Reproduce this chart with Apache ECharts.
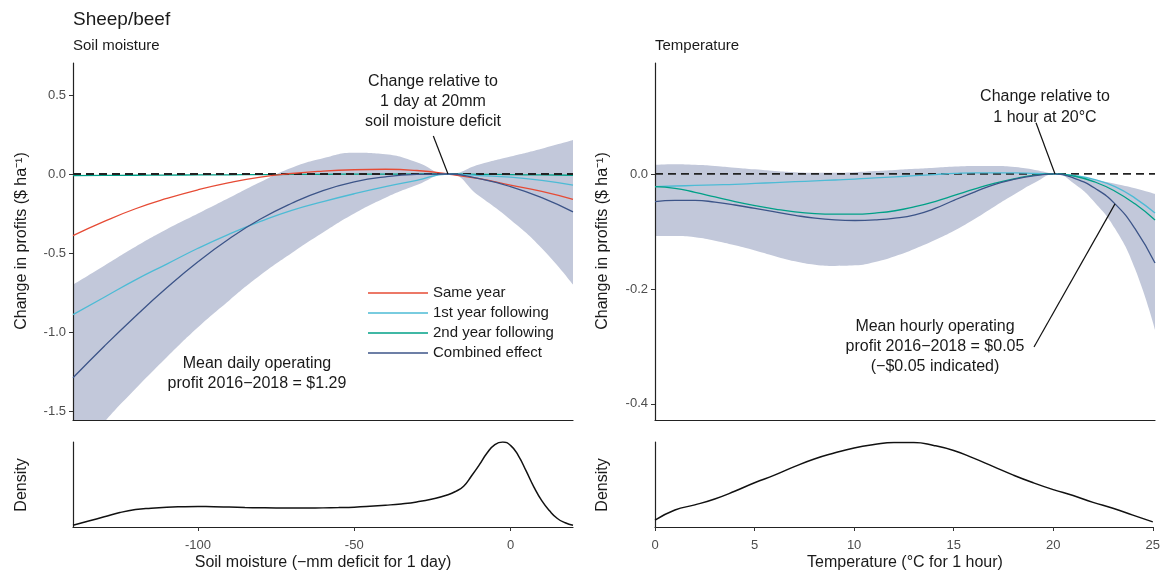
<!DOCTYPE html>
<html><head><meta charset="utf-8">
<script src="https://cdn.jsdelivr.net/npm/echarts@6/dist/echarts.min.js"></script>
<style>html,body{margin:0;padding:0;background:#fff}#c{width:1163px;height:572px}</style>
</head><body><div id="c"></div>
<script>
// ---------- DATA ----------
const soilX = [-140,-130,-120,-110,-100,-90,-80,-70,-60,-50,-40,-30,-20,-10,0,10,20];
const soilSameYear   = [-0.39,-0.30,-0.22,-0.155,-0.10,-0.055,-0.02,0.003,0.018,0.027,0.03,0.022,0,-0.03,-0.07,-0.11,-0.16];
const soilFirstYear  = [-0.89,-0.78,-0.67,-0.57,-0.47,-0.38,-0.30,-0.23,-0.175,-0.125,-0.08,-0.04,0,-0.01,-0.02,-0.04,-0.07];
const soilSecondYear = [-0.01,-0.009,-0.008,-0.007,-0.006,-0.005,-0.004,-0.003,-0.002,-0.001,-0.001,0,0,-0.002,-0.004,-0.006,-0.008];
const soilCombined   = [-1.29,-1.09,-0.90,-0.72,-0.555,-0.41,-0.285,-0.185,-0.105,-0.05,-0.018,-0.003,0,-0.03,-0.08,-0.15,-0.24];
const soilUpper      = [-0.70,-0.58,-0.46,-0.35,-0.25,-0.15,-0.05,0.04,0.10,0.135,0.125,0.075,0,0.06,0.11,0.16,0.215];
const soilLower      = [-1.80,-1.57,-1.36,-1.16,-0.97,-0.80,-0.64,-0.50,-0.37,-0.25,-0.15,-0.07,0,-0.14,-0.29,-0.47,-0.70];

const tempX = [0,1,2,3,4,5,6,7,8,9,10,11,12,13,14,15,16,17,18,19,20,21,22,23,24,25];
const tempFirstYear  = [-0.022,-0.021,-0.02,-0.019,-0.018,-0.0165,-0.015,-0.0135,-0.012,-0.0105,-0.009,-0.007,-0.005,-0.003,-0.001,0.001,0.002,0.002,0.002,0.001,0,-0.003,-0.01,-0.022,-0.042,-0.068];
const tempSecondYear = [-0.022,-0.025,-0.032,-0.040,-0.048,-0.055,-0.061,-0.066,-0.069,-0.070,-0.070,-0.068,-0.064,-0.057,-0.048,-0.037,-0.026,-0.016,-0.008,-0.002,0,-0.004,-0.014,-0.03,-0.052,-0.08];
const tempCombined   = [-0.048,-0.046,-0.046,-0.049,-0.054,-0.060,-0.066,-0.072,-0.077,-0.080,-0.081,-0.080,-0.077,-0.071,-0.060,-0.045,-0.031,-0.018,-0.009,-0.003,0,-0.008,-0.025,-0.052,-0.095,-0.155];
const tempUpper      = [0.016,0.017,0.016,0.014,0.011,0.008,0.005,0.003,0.002,0.002,0.003,0.005,0.007,0.009,0.011,0.013,0.014,0.014,0.012,0.007,0,-0.004,-0.01,-0.017,-0.025,-0.035];
const tempLower      = [-0.108,-0.108,-0.110,-0.116,-0.124,-0.133,-0.143,-0.152,-0.158,-0.160,-0.159,-0.153,-0.143,-0.130,-0.115,-0.098,-0.078,-0.056,-0.035,-0.015,0,-0.018,-0.05,-0.095,-0.165,-0.271];

const soilDensityX = [-140,-135,-130,-125,-120,-115,-110,-105,-100,-95,-90,-85,-80,-75,-70,-65,-60,-55,-50,-45,-40,-35,-30,-25,-20,-17.5,-15,-12.5,-10,-7.5,-5,-2.5,0,2.5,5,7.5,10,12.5,15,17.5,20];
const soilDensity  = [0.02,0.07,0.12,0.17,0.205,0.222,0.233,0.238,0.24,0.239,0.235,0.23,0.226,0.224,0.224,0.224,0.225,0.228,0.233,0.243,0.256,0.272,0.295,0.33,0.38,0.42,0.48,0.6,0.73,0.87,0.97,1.0,0.96,0.84,0.66,0.47,0.31,0.19,0.1,0.05,0.02];
const tempDensity  = [0.08,0.2,0.26,0.33,0.42,0.52,0.61,0.71,0.80,0.87,0.93,0.97,0.995,0.995,0.96,0.90,0.81,0.71,0.61,0.52,0.44,0.37,0.29,0.22,0.14,0.06];

const seriesNames = ['Same year','1st year following','2nd year following','Combined effect'];
const soilTicksY = [-1.5,-1,-0.5,0,0.5];
const tempTicksY = [-0.4,-0.2,0];
const soilTicksX = [-100,-50,0];

// ---------- STYLE ----------
const FONT = 'Liberation Sans, Arial, Helvetica, sans-serif';
const COLORS = {'Same year':'#E64B35','1st year following':'#4DBBD5','2nd year following':'#00A087','Combined effect':'#3C5488'};
const BAND = '#C2C8DA';
const AXIS = '#222';
const pairs = (xs, ys) => xs.map((x,i)=>[x, ys[i]]);

function curve(name, xs, ys, gi){
  return {name, type:'line', xAxisIndex:gi, yAxisIndex:gi, data:pairs(xs,ys), smooth:true, symbol:'none',
    silent:true, lineStyle:{color:COLORS[name], width:1.3}, itemStyle:{color:COLORS[name]}};
}
// ribbon: upper edge filled down to axis start, lower edge masked in white beneath the axes (z<0)
function band(xs, lo, hi, gi){
  return [
    {type:'line', z:-2, xAxisIndex:gi, yAxisIndex:gi, data:pairs(xs,hi), smooth:true, symbol:'none', silent:true,
     lineStyle:{width:0, opacity:0}, areaStyle:{color:BAND, opacity:1, origin:'start'}},
    {type:'line', z:-1, xAxisIndex:gi, yAxisIndex:gi, data:pairs(xs,lo), smooth:true, symbol:'none', silent:true,
     lineStyle:{width:0, opacity:0}, areaStyle:{color:'#ffffff', opacity:1, origin:'start'}}
  ];
}
function zeroLine(xmin, xmax, gi, leaders){
  return {type:'line', xAxisIndex:gi, yAxisIndex:gi, data:[[xmin,0],[xmax,0]], symbol:'none', silent:true,
    lineStyle:{color:AXIS, width:1.8, type:[8,5]},
    markLine:{silent:true, symbol:['none','none'], label:{show:false}, lineStyle:{type:'solid', color:'#111', width:1.2},
      data: leaders.map(l=>[{coord:l[0]},{coord:l[1]}])}};
}
const tickLabel = {color:'#4d4d4d', fontSize:13, fontFamily:FONT};

const option = {
  animation:false,
  grid:[
    {left:73, top:63, width:500, height:357},
    {left:73, top:442, width:500, height:85},
    {left:655, top:63, width:500, height:357},
    {left:655, top:442, width:500, height:85}
  ],
  xAxis:[
    {gridIndex:0, type:'value', min:-140, max:20, axisLine:{onZero:false, lineStyle:{color:AXIS, width:1.2}}, axisTick:{show:false}, axisLabel:{show:false}, splitLine:{show:false}},
    {gridIndex:1, type:'value', min:-140, max:20, axisLine:{onZero:false, lineStyle:{color:AXIS, width:1.2}},
      axisTick:{show:true, length:4, customValues:soilTicksX, lineStyle:{color:'#333'}},
      axisLabel:Object.assign({customValues:soilTicksX, margin:12, formatter:v=>String(v)}, tickLabel), splitLine:{show:false}},
    {gridIndex:2, type:'value', min:0, max:25, axisLine:{onZero:false, lineStyle:{color:AXIS, width:1.2}}, axisTick:{show:false}, axisLabel:{show:false}, splitLine:{show:false}},
    {gridIndex:3, type:'value', min:0, max:25, interval:5, axisLine:{onZero:false, lineStyle:{color:AXIS, width:1.2}},
      axisTick:{show:true, length:4, lineStyle:{color:'#333'}}, axisLabel:Object.assign({margin:12, showMinLabel:true, showMaxLabel:true}, tickLabel), splitLine:{show:false}}
  ],
  yAxis:[
    {gridIndex:0, type:'value', min:-1.557, max:0.7025, axisLine:{show:true, onZero:false, lineStyle:{color:AXIS, width:1.2}},
      axisTick:{show:true, length:4, customValues:soilTicksY, lineStyle:{color:'#333'}},
      axisLabel:Object.assign({customValues:soilTicksY, margin:7, formatter:v=>v.toFixed(1)}, tickLabel), splitLine:{show:false}},
    {gridIndex:1, type:'value', min:0, max:1, axisLine:{show:true, onZero:false, lineStyle:{color:AXIS, width:1.2}}, axisTick:{show:false}, axisLabel:{show:false}, splitLine:{show:false}},
    {gridIndex:2, type:'value', min:-0.428, max:0.193, axisLine:{show:true, onZero:false, lineStyle:{color:AXIS, width:1.2}},
      axisTick:{show:true, length:4, customValues:tempTicksY, lineStyle:{color:'#333'}},
      axisLabel:Object.assign({customValues:tempTicksY, margin:7, formatter:v=>v.toFixed(1)}, tickLabel), splitLine:{show:false}},
    {gridIndex:3, type:'value', min:0, max:1, axisLine:{show:true, onZero:false, lineStyle:{color:AXIS, width:1.2}}, axisTick:{show:false}, axisLabel:{show:false}, splitLine:{show:false}}
  ],
  legend:{
    data:seriesNames, orient:'vertical', left:363, top:278, padding:5, itemGap:0,
    icon:'rect', itemWidth:60, itemHeight:1.5, selectedMode:false,
    textStyle:{fontSize:15, fontFamily:FONT, color:'#1a1a1a', lineHeight:20}
  },
  series:[
    ...band(soilX, soilLower, soilUpper, 0),
    curve('2nd year following', soilX, soilSecondYear, 0),
    zeroLine(-140, 20, 0, [[[-24.7,0.24],[-20,0]]]),
    curve('Same year', soilX, soilSameYear, 0),
    curve('1st year following', soilX, soilFirstYear, 0),
    curve('Combined effect', soilX, soilCombined, 0),
    {type:'line', xAxisIndex:1, yAxisIndex:1, data:pairs(soilDensityX, soilDensity), smooth:true, symbol:'none', silent:true, lineStyle:{color:'#111', width:1.5}},
    ...band(tempX, tempLower, tempUpper, 2),
    zeroLine(0, 25, 2, [[[19.05,0.089],[20,0]], [[18.95,-0.301],[23,-0.052]]]),
    curve('1st year following', tempX, tempFirstYear, 2),
    curve('2nd year following', tempX, tempSecondYear, 2),
    curve('Combined effect', tempX, tempCombined, 2),
    {type:'line', xAxisIndex:3, yAxisIndex:3, data:pairs(tempX, tempDensity), smooth:true, symbol:'none', silent:true, lineStyle:{color:'#111', width:1.5}}
  ],
  graphic:[
    {type:'text', x:73, y:20, style:{text:'Sheep/beef', font:'19px '+FONT, fill:'#1a1a1a', align:'left', verticalAlign:'middle'}},
    {type:'text', x:73, y:46, style:{text:'Soil moisture', font:'15px '+FONT, fill:'#1a1a1a', align:'left', verticalAlign:'middle'}},
    {type:'text', x:655, y:46, style:{text:'Temperature', font:'15px '+FONT, fill:'#1a1a1a', align:'left', verticalAlign:'middle'}},
    {type:'text', x:22, y:241, rotation:Math.PI/2, style:{text:'Change in profits ($ ha⁻¹)', font:'16px '+FONT, fill:'#1a1a1a', align:'center', verticalAlign:'middle'}},
    {type:'text', x:603, y:241, rotation:Math.PI/2, style:{text:'Change in profits ($ ha⁻¹)', font:'16px '+FONT, fill:'#1a1a1a', align:'center', verticalAlign:'middle'}},
    {type:'text', x:22, y:485, rotation:Math.PI/2, style:{text:'Density', font:'16px '+FONT, fill:'#1a1a1a', align:'center', verticalAlign:'middle'}},
    {type:'text', x:603, y:485, rotation:Math.PI/2, style:{text:'Density', font:'16px '+FONT, fill:'#1a1a1a', align:'center', verticalAlign:'middle'}},
    {type:'text', x:323, y:563, style:{text:'Soil moisture (−mm deficit for 1 day)', font:'16px '+FONT, fill:'#1a1a1a', align:'center', verticalAlign:'middle'}},
    {type:'text', x:905, y:563, style:{text:'Temperature (°C for 1 hour)', font:'16px '+FONT, fill:'#1a1a1a', align:'center', verticalAlign:'middle'}},
    {type:'text', x:433, y:102, style:{text:'Change relative to\n1 day at 20mm\nsoil moisture deficit', font:'16px '+FONT, lineHeight:20, fill:'#1a1a1a', align:'center', verticalAlign:'middle'}},
    {type:'text', x:1045, y:107, style:{text:'Change relative to\n1 hour at 20°C', font:'16px '+FONT, lineHeight:21, fill:'#1a1a1a', align:'center', verticalAlign:'middle'}},
    {type:'text', x:257, y:374, style:{text:'Mean daily operating\nprofit 2016−2018 = $1.29', font:'16px '+FONT, lineHeight:20, fill:'#1a1a1a', align:'center', verticalAlign:'middle'}},
    {type:'text', x:935, y:347, style:{text:'Mean hourly operating\nprofit 2016−2018 = $0.05\n(−$0.05 indicated)', font:'16px '+FONT, lineHeight:20, fill:'#1a1a1a', align:'center', verticalAlign:'middle'}}
  ]
};
const chart = echarts.init(document.getElementById('c'), null, {renderer:'canvas'});
chart.setOption(option);
</script>
</body></html>
